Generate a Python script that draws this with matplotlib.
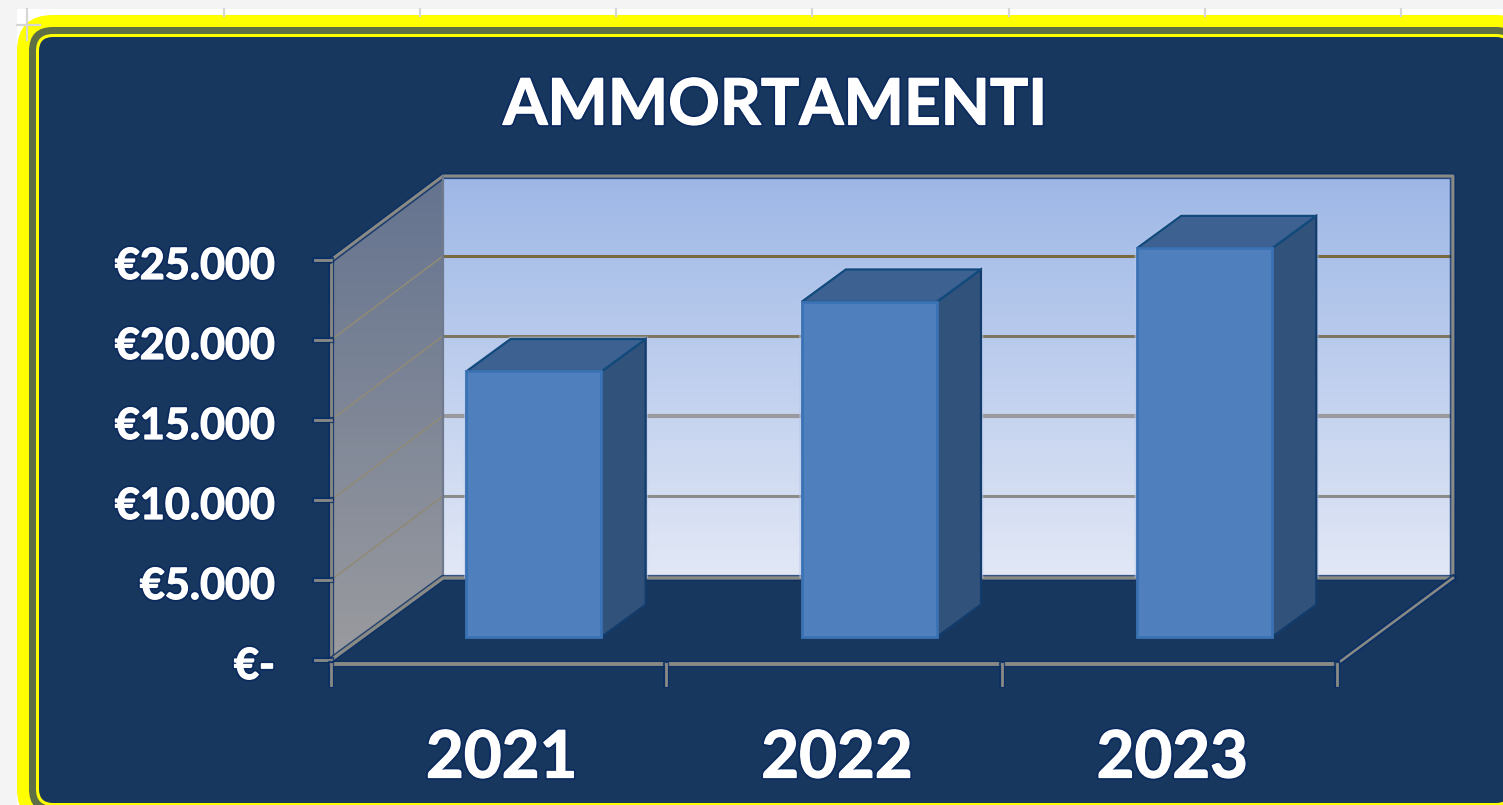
import numpy as np
import matplotlib
matplotlib.use('Agg')
import matplotlib.pyplot as plt
import matplotlib.patheffects as pe
from matplotlib.colors import LinearSegmentedColormap
from matplotlib.patches import FancyBboxPatch, Polygon

plt.rcParams['font.family'] = ['Lato', 'DejaVu Sans']

years = ['2021', '2022', '2023']
values = [16600, 20950, 24300]
y_ticks = [0, 5000, 10000, 15000, 20000, 25000]
y_labels = ['€-', '€5.000', '€10.000', '€15.000', '€20.000', '€25.000']
grid_colors = ['#8c8c88', '#9a9a9e', '#7d7762', '#7b6a3f']

NAVY = '#17375e'
W, H = 1503, 805
X0, Y0 = 331, 660          # pixel of category 0 / value 0
PX_CAT = 335.3             # pixels per category
PX_VAL = 80 / 5000         # pixels per euro
DX = 112 / PX_CAT          # depth of the floor in data units
DY = 84 / PX_VAL           # wall top and grid lines
FLOOR = 82 / PX_VAL        # back edge of the floor
EXTRA = 4 / PX_CAT         # back wall is a little wider than the front
AXIS_Y = -4 / PX_VAL

fig = plt.figure(figsize=(W / 100, H / 100), dpi=100, facecolor='#f4f4f4')

# sheet and chart frame, in pixels
bg = fig.add_axes([0, 0, 1, 1])
bg.set_xlim(0, W)
bg.set_ylim(H, 0)
bg.axis('off')
bg.add_patch(plt.Rectangle((17, 9), W, H, color='white', lw=0))
for gx in [224, 420, 616, 812, 1009, 1205, 1401]:
    bg.plot([gx, gx], [9, 16], color='#d6d6d6', lw=1.6)
bg.plot([27, 27], [9, 40], color='#d6d6d6', lw=1.6)
bg.plot([17, 40], [25, 25], color='#d6d6d6', lw=1.6)


def frame(inset, color):
    bg.add_patch(FancyBboxPatch((17 + inset, 15 + inset), 1515 - 2 * inset, 810 - 2 * inset,
                                boxstyle='round,pad=0,rounding_size=%d' % max(36 - inset, 6),
                                fc=color, ec='none'))


frame(0, '#ffff00')
frame(12, '#5f6f45')
frame(19, '#ffff00')
frame(22, NAVY)

# chart axes: x in categories, y in euro
ax = fig.add_axes([0, 0, 1, 1])
ax.patch.set_alpha(0)
ax.set_xlim(-X0 / PX_CAT, (W - X0) / PX_CAT)
ax.set_ylim((Y0 - H) / PX_VAL, Y0 / PX_VAL)
ax.axis('off')

top = y_ticks[-1]
n = len(years)
right = n + DX + EXTRA


def gradient(x1, x2, y1, y2, c_top, c_bottom, clip, z):
    cmap = LinearSegmentedColormap.from_list('g', [c_top, c_bottom])
    im = ax.imshow(np.linspace(0, 1, 256).reshape(-1, 1), cmap=cmap, aspect='auto',
                   extent=[x1, x2, y1, y2], origin='upper', zorder=z)
    im.set_clip_path(clip)


# left wall
left = Polygon([(0, 0), (DX, FLOOR), (DX, DY + top), (0, top)], closed=True,
               transform=ax.transData, fc='none', ec='none')
ax.add_patch(left)
gradient(0, DX, 0, DY + top, '#64738f', '#9a9b9f', left, 1)

# back wall
back = Polygon([(DX, FLOOR), (right, FLOOR), (right, DY + top), (DX, DY + top)], closed=True,
               transform=ax.transData, fc='none', ec='none')
ax.add_patch(back)
gradient(DX, right, FLOOR, DY + top, '#9db7e6', '#e2e8f6', back, 1)

# grid lines on both walls
for v, c in zip(y_ticks[1:-1], grid_colors):
    ax.plot([DX, right], [DY + v, DY + v], color=c, lw=3 if v == 10000 else 2.2, zorder=2,
            solid_capstyle='butt')
for v in y_ticks[1:]:
    ax.plot([0, DX], [v, DY + v], color='#8f8a78', lw=1.2, zorder=2)

# wall and floor edges
edge = '#8a8a85'
halo = [pe.Stroke(linewidth=4.5, foreground='#0b2f66', alpha=0.8), pe.Normal()]
ax.plot([0, 0], [0, top], color=edge, lw=2, zorder=3, path_effects=halo)
ax.plot([0, DX, right, right], [top, DY + top, DY + top, FLOOR], color=edge, lw=2.2, zorder=3,
        path_effects=halo)
ax.plot([DX, DX], [FLOOR, DY + top], color='#6f7a8e', lw=1.6, zorder=3)
ax.plot([0, DX, right], [0, FLOOR, FLOOR], color=edge, lw=2.4, zorder=3, path_effects=halo)
ax.plot([n, right], [AXIS_Y, FLOOR], color=edge, lw=1.8, zorder=3, path_effects=halo)
ax.plot([0, n], [AXIS_Y, AXIS_Y], color=edge, lw=2.8, zorder=3, path_effects=halo)

# ticks
for v in y_ticks:
    ax.plot([-16 / PX_CAT, 0], [v, v], color=edge, lw=2, zorder=3, path_effects=halo)
for i in range(n + 1):
    ax.plot([i, i], [AXIS_Y, -25 / PX_VAL], color=edge, lw=2, zorder=3, path_effects=halo)

# bars
bar_l, bar_w = 0.31, 0.403
t0, t1 = 0.28, 0.675
for i, v in enumerate(values):
    xl = i + bar_l + t0 * DX
    xr = xl + bar_w
    yb = t0 * FLOOR
    ox, oy = (t1 - t0) * DX, (t1 - t0) * FLOOR
    outline = [(xl, yb), (xr, yb), (xr + ox, yb + oy), (xr + ox, yb + v + oy),
               (xl + ox, yb + v + oy), (xl, yb + v)]
    glow = Polygon(outline, closed=True, fc='none', ec='#b9c9ec', lw=3.5, alpha=0.55, zorder=3.5)
    ax.add_patch(glow)
    glow.set_clip_path(back)
    ax.add_patch(Polygon([(xr, yb), (xr + ox, yb + oy), (xr + ox, yb + v + oy), (xr, yb + v)],
                         closed=True, fc='#31527a', ec='#123c6c', lw=1.6, zorder=4))
    ax.add_patch(Polygon([(xl, yb + v), (xr, yb + v), (xr + ox, yb + v + oy), (xl + ox, yb + v + oy)],
                         closed=True, fc='#3d6291', ec='#114a7d', lw=1.6, zorder=4))
    ax.bar(xl, v, bottom=yb, width=bar_w, align='edge', color='#4f80bd', edgecolor='#3a72b4',
           linewidth=2, zorder=5)

# text
outline_txt = [pe.Stroke(linewidth=3.5, foreground='#0b2a5e'),
               pe.Stroke(linewidth=0.9, foreground='white'), pe.Normal()]
ax.text((775 - X0) / PX_CAT, (Y0 - 106) / PX_VAL, 'AMMORTAMENTI', color='white', fontsize=46,
        fontweight='bold', ha='center', va='center', path_effects=outline_txt, zorder=6)
for v, lab in zip(y_ticks, y_labels):
    ax.text(-56 / PX_CAT, v - 6 / PX_VAL, lab, color='white', fontsize=31, fontweight='bold',
            ha='right', va='center', path_effects=outline_txt, zorder=6)
for i, lab in enumerate(years):
    ax.text(i + 0.5 + 3 / PX_CAT, (Y0 - 759) / PX_VAL, lab, color='white', fontsize=47, fontweight='bold',
            ha='center', va='center', path_effects=outline_txt, zorder=6)

fig.savefig('out.png', dpi=100, facecolor=fig.get_facecolor())
